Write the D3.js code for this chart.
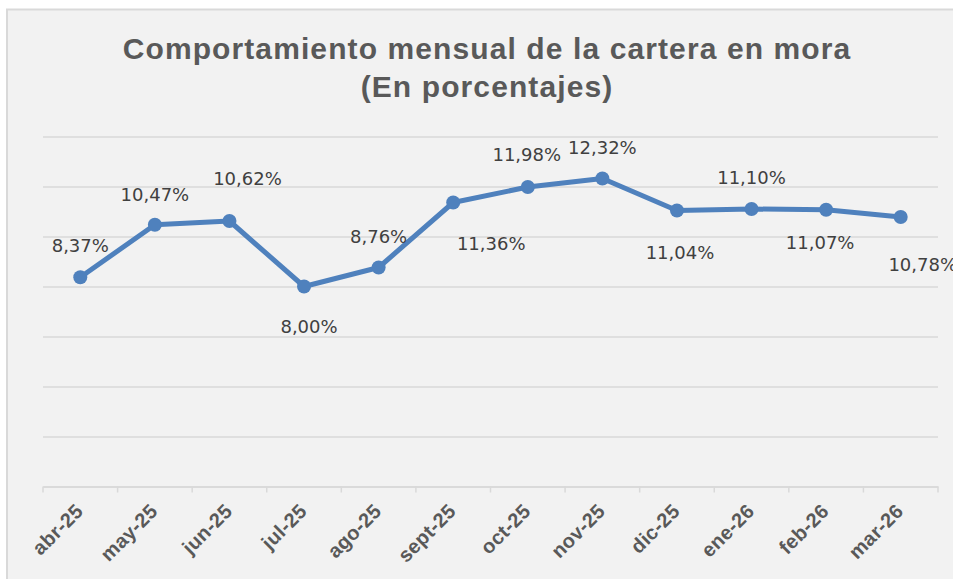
<!DOCTYPE html>
<html>
<head>
<meta charset="utf-8">
<script src="https://cdn.jsdelivr.net/npm/d3@7"></script>
<style>
    body { margin: 0; background: #fff; }
</style>
</head>
<body>
<div id="container"></div>
<script>
// chart data
const months = ['abr-25', 'may-25', 'jun-25', 'jul-25', 'ago-25', 'sept-25',
    'oct-25', 'nov-25', 'dic-25', 'ene-26', 'feb-26', 'mar-26'];
const mora = [8.37, 10.47, 10.62, 8.00, 8.76, 11.36, 11.98, 12.32, 11.04, 11.10, 11.07, 10.78];
const yTicks = [0, 2, 4, 6, 8, 10, 12, 14];
const titleLines = ['Comportamiento mensual de la cartera en mora', '(En porcentajes)'];

// where each data label sits relative to its point (like Excel's manual placement)
const labelOffsets = [[0, -25], [0, -24], [18, -36], [5, 46], [0, -25], [38, 47],
    [-1, -26], [0, -25], [3, 48], [0, -25], [-6, 39], [22, 54]];

const fmt = (v) => v.toFixed(2).replace('.', ',') + '%';

const W = 953, H = 579;
const svg = d3.select('#container')
    .append('svg')
    .attr('width', W)
    .attr('height', H);

// panel
svg.append('rect')
    .attr('x', 7).attr('y', 9.5)
    .attr('width', W).attr('height', H)
    .attr('fill', '#f2f2f2')
    .attr('stroke', '#d9d9d9')
    .attr('stroke-width', 2);

// title
svg.append('text')
    .attr('text-anchor', 'middle')
    .style('font-family', '"Liberation Sans", Arial, sans-serif')
    .style('font-weight', 'bold')
    .style('font-size', '30px')
    .style('letter-spacing', '1.1px')
    .attr('fill', '#595959')
    .selectAll('tspan')
    .data(titleLines)
    .enter()
    .append('tspan')
    .attr('x', 487)
    .attr('y', (d, i) => 59 + i * 38)
    .text((d) => d);

const xScale = d3.scaleBand().domain(months).range([43, 938]).padding(0);
const yScale = d3.scaleLinear().domain([0, 14]).range([486.5, 136.5]);
const cx = (m) => xScale(m) + xScale.bandwidth() / 2;

// gridlines
const yAxis = d3.axisLeft(yScale).tickValues(yTicks).tickSize(-(938 - 43)).tickFormat('');
const grid = svg.append('g')
    .attr('class', 'grid')
    .attr('transform', 'translate(43,0)')
    .call(yAxis);
grid.select('.domain').remove();
grid.selectAll('line')
    .attr('stroke', '#d9d9d9')
    .attr('stroke-width', 1.5);

// x axis: ticks sit between categories
const xAxis = d3.axisBottom(xScale).tickSize(0).tickFormat('');
const xAxisGroup = svg.append('g')
    .attr('class', 'xaxisgroup')
    .attr('transform', 'translate(0,' + yScale(0) + ')')
    .call(xAxis);
xAxisGroup.select('.domain')
    .attr('stroke', '#d9d9d9')
    .attr('stroke-width', 1.5);
xAxisGroup.selectAll('.tick').remove();

const bounds = months.map((m) => xScale(m)).concat([xScale.range()[1]]);
xAxisGroup.selectAll('.tickmark').data(bounds)
    .enter()
    .append('line')
    .attr('class', 'tickmark')
    .attr('x1', (d) => d).attr('x2', (d) => d)
    .attr('y1', 0).attr('y2', 6)
    .attr('stroke', '#d9d9d9')
    .attr('stroke-width', 1.5);

xAxisGroup.selectAll('.mlabel').data(months)
    .enter()
    .append('text')
    .attr('class', 'mlabel')
    .attr('transform', (d) => 'translate(' + (cx(d) + 4) + ',26) rotate(-45)')
    .attr('text-anchor', 'end')
    .style('font-family', '"Liberation Sans", Arial, sans-serif')
    .style('font-weight', 'bold')
    .style('font-size', '20px')
    .style('letter-spacing', '0.3px')
    .attr('fill', '#595959')
    .text((d) => d);

// line + markers
const points = months.map((m, i) => ({ month: m, value: mora[i] }));
const lineMaker = d3.line()
    .x((d) => cx(d.month))
    .y((d) => yScale(d.value));

svg.append('path')
    .datum(points)
    .attr('d', lineMaker)
    .attr('stroke', '#4f81bd')
    .attr('stroke-width', 5)
    .attr('stroke-linejoin', 'round')
    .style('fill', 'none');

svg.selectAll('.dot').data(points)
    .enter()
    .append('circle')
    .attr('class', 'dot')
    .attr('cx', (d) => cx(d.month))
    .attr('cy', (d) => yScale(d.value))
    .attr('r', 7)
    .attr('fill', '#4f81bd');

// data labels
svg.selectAll('.vlabel').data(points)
    .enter()
    .append('text')
    .attr('class', 'vlabel')
    .attr('x', (d, i) => cx(d.month) + labelOffsets[i][0])
    .attr('y', (d, i) => yScale(d.value) + labelOffsets[i][1])
    .attr('text-anchor', 'middle')
    .style('font-family', '"DejaVu Sans", sans-serif')
    .style('font-size', '18px')
    .attr('fill', '#404040')
    .text((d) => fmt(d.value));
</script>
</body>
</html>
